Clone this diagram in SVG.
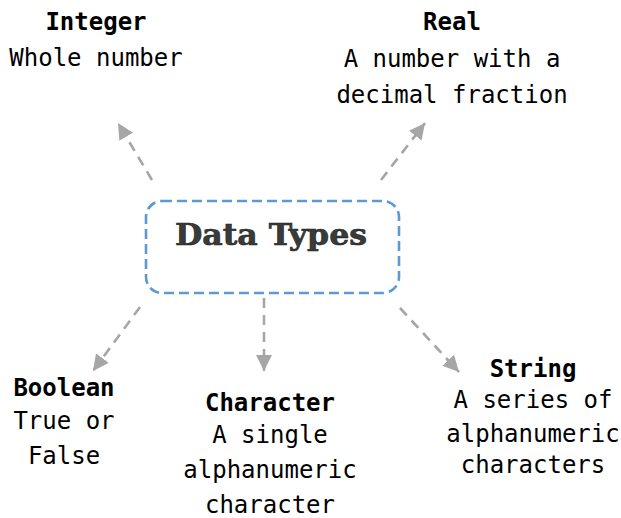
<svg xmlns="http://www.w3.org/2000/svg" width="621" height="518" viewBox="0 0 621 518">
<style>
.t{font-family:"DejaVu Sans Mono","Liberation Mono",monospace;font-size:24px;fill:#000;text-anchor:middle}
.b{font-weight:bold}
.c{stroke:#a6a6a6;stroke-width:2.6;stroke-dasharray:10 7;fill:none}
.main{font-family:"DejaVu Serif","Liberation Serif",serif;font-weight:bold;font-size:30px;fill:#3a3a3a;stroke:#222;stroke-width:0.6;text-anchor:middle}
</style>
<defs>
<marker id="ah" markerUnits="userSpaceOnUse" markerWidth="18" markerHeight="18" refX="16" refY="8" orient="auto">
<path d="M0,0 L16,8 L0,16 Z" fill="#a6a6a6"/>
</marker>
</defs>
<rect width="621" height="518" fill="#fff"/>
<g id="connectors">
<line class="c" x1="152" y1="180" x2="118" y2="123" marker-end="url(#ah)"/>
<line class="c" x1="381" y1="180" x2="425" y2="123" marker-end="url(#ah)"/>
<line class="c" x1="140" y1="307" x2="93" y2="371" marker-end="url(#ah)"/>
<line class="c" x1="264" y1="298" x2="264" y2="371" marker-end="url(#ah)"/>
<line class="c" x1="400" y1="308" x2="459" y2="372" marker-end="url(#ah)"/>
</g>
<g id="datatypes">
<rect x="146" y="201" width="253" height="92" rx="16" ry="16" fill="none" stroke="#5b9bd5" stroke-width="2.6" stroke-dasharray="10 5"/>
<text class="main" x="271" y="245" textLength="192" lengthAdjust="spacingAndGlyphs">Data Types</text>
</g>
<g id="integer">
<text class="t b" x="96" y="30">Integer</text>
<text class="t" x="96" y="66">Whole number</text>
</g>
<g id="real">
<text class="t b" x="452" y="30">Real</text>
<text class="t" x="452" y="67">A number with a</text>
<text class="t" x="452" y="103">decimal fraction</text>
</g>
<g id="boolean">
<text class="t b" x="64" y="396">Boolean</text>
<text class="t" x="64" y="429">True or</text>
<text class="t" x="64" y="464">False</text>
</g>
<g id="character">
<text class="t b" x="270" y="411">Character</text>
<text class="t" x="270" y="443">A single</text>
<text class="t" x="270" y="478">alphanumeric</text>
<text class="t" x="270" y="513">character</text>
</g>
<g id="string">
<text class="t b" x="533" y="377">String</text>
<text class="t" x="533" y="408">A series of</text>
<text class="t" x="533" y="442">alphanumeric</text>
<text class="t" x="533" y="473">characters</text>
</g>
</svg>
